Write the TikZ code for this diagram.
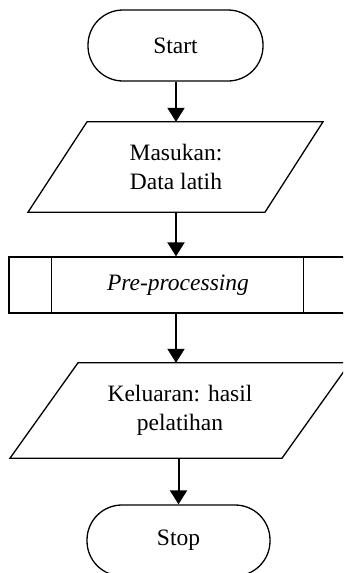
\documentclass[tikz,border=0pt]{standalone}
\usepackage{fontspec}
\setmainfont{Liberation Serif}
\usetikzlibrary{arrows.meta,calc}
\begin{document}
\begin{tikzpicture}[x=1pt,y=-1pt,
  every node/.style={font=\fontsize{23.5}{29.5}\selectfont, align=center, inner sep=0pt},
  shapeline/.style={draw=black, line width=1.3pt},
  terminal/.style={shapeline, rectangle, rounded corners=35pt, minimum height=71pt},
  iobox/.style={rectangle, minimum height=#1},
  predef/.style={shapeline, rectangle, minimum width=338pt, minimum height=56pt},
  arr/.style={draw=black, line width=2pt, -{Triangle[width=17pt,length=14pt]}}
]
\clip (0,0) rectangle (343,573);
\fill[white] (0,0) rectangle (343,573);

\node[terminal, minimum width=175pt] (start) at (175.5,45.5) {Start};

\node[iobox=90pt] (in1) at (176,167) {Masukan:\\Data latih};
\draw[shapeline] ($(in1.north)+(-89,0)$) -- ($(in1.north)+(147,0)$) -- ($(in1.south)+(89,0)$) -- ($(in1.south)+(-148,0)$) -- cycle;

\node[predef] (pre) at (178,285) {\textit{Pre-processing}};
\draw[shapeline] ($(pre.north west)+(43,0)$) -- ($(pre.south west)+(43,0)$);
\draw[shapeline] ($(pre.north east)+(-44,0)$) -- ($(pre.south east)+(-44,0)$);

\node[iobox=95pt] (out1) at (180,410.5) {Keluaran: hasil\\pelatihan};
\draw[shapeline] ($(out1.north)+(-102,0)$) -- ($(out1.north)+(170,0)$) -- ($(out1.south)+(102,0)$) -- ($(out1.south)+(-170,0)$) -- cycle;

\node[terminal, minimum width=183pt] (stop) at (178.5,540.5) {Stop};

\draw[arr] (start.south -| in1.north) -- (in1.north);
\draw[arr] (in1.south) -- (in1.south |- pre.north);
\draw[arr] (in1.south |- pre.south) -- (in1.south |- out1.north);
\draw[arr] (out1.south -| stop.north) -- (stop.north);
\end{tikzpicture}
\end{document}
